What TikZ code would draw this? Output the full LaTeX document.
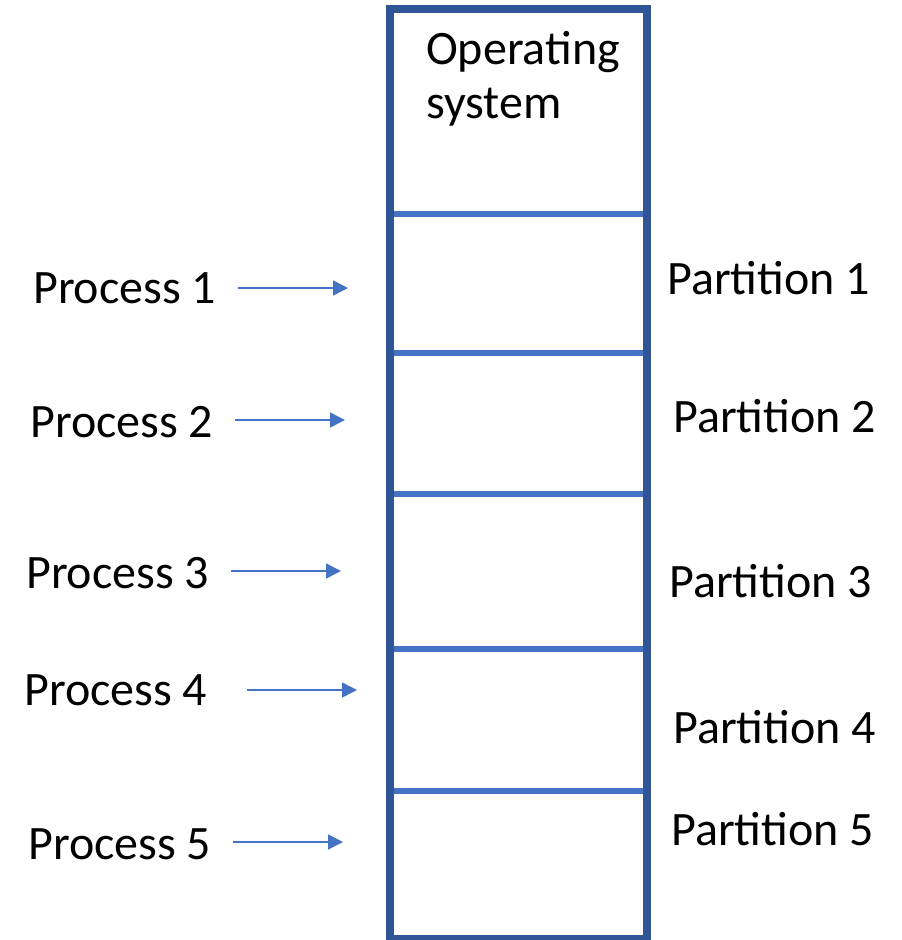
\documentclass[tikz,border=0pt]{standalone}
\usepackage{fontspec}
\setmainfont{Carlito}
\usetikzlibrary{arrows.meta}
\definecolor{frameblue}{HTML}{2F5597}
\definecolor{lineblue}{HTML}{4472C4}
\tikzset{
  lbl/.style={anchor=base west, inner sep=0pt, font=\fontsize{48}{57}\selectfont},
  arr/.style={draw=lineblue, line width=1.5pt, -{Triangle[length=15pt,width=15pt]}},
  divider/.style={draw=lineblue, line width=6pt},
  frame/.style={draw=frameblue, line width=8pt}
}
\begin{document}
\begin{tikzpicture}[x=1pt, y=-1pt]
  \useasboundingbox (0,0) rectangle (902,940);
  % memory column and its partitions
  \coordinate (m1l) at (386,214); \coordinate (m1r) at (644,214);
  \coordinate (m2l) at (386,353); \coordinate (m2r) at (644,353);
  \coordinate (m3l) at (386,494); \coordinate (m3r) at (644,494);
  \coordinate (m4l) at (386,649); \coordinate (m4r) at (644,649);
  \coordinate (m5l) at (386,791); \coordinate (m5r) at (644,791);
  \draw[divider] (m1l) -- (m1r);
  \draw[divider] (m2l) -- (m2r);
  \draw[divider] (m3l) -- (m3r);
  \draw[divider] (m4l) -- (m4r);
  \draw[divider] (m5l) -- (m5r);
  \draw[frame] (390,9) rectangle (647,939);
  % OS label
  \node[lbl] (os1) at (426,64) {Operating};
  \node[lbl] (os2) at (426,118) {system};
  % processes
  \node[lbl] (p1) at (33,303) {Process 1};
  \node[lbl] (p2) at (30,437) {Process 2};
  \node[lbl] (p3) at (26,588) {Process 3};
  \node[lbl] (p4) at (24,705) {Process 4};
  \node[lbl] (p5) at (28,859) {Process 5};
  % partitions
  \node[lbl] (q1) at (667,294) {Partition 1};
  \node[lbl] (q2) at (673,432) {Partition 2};
  \node[lbl] (q3) at (669,597) {Partition 3};
  \node[lbl] (q4) at (673,743) {Partition 4};
  \node[lbl] (q5) at (671,845) {Partition 5};
  % arrow targets
  \coordinate (t1) at (348,288);
  \coordinate (t2) at (345,420);
  \coordinate (t3) at (341,571);
  \coordinate (t4) at (357,690);
  \coordinate (t5) at (343,842);
  \draw[arr, shorten <=22pt] (p1.east |- t1) -- (t1);
  \draw[arr, shorten <=22pt] (p2.east |- t2) -- (t2);
  \draw[arr, shorten <=22pt] (p3.east |- t3) -- (t3);
  \draw[arr, shorten <=40pt] (p4.east |- t4) -- (t4);
  \draw[arr, shorten <=22pt] (p5.east |- t5) -- (t5);
\end{tikzpicture}
\end{document}
